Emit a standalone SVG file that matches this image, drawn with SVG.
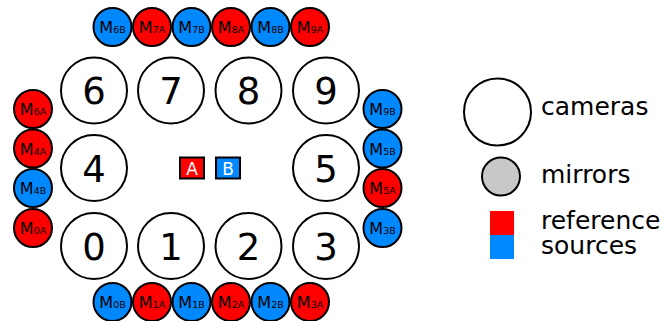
<svg xmlns="http://www.w3.org/2000/svg" width="662" height="321" viewBox="0 0 662 321">
<style>
.cam{fill:#fff;stroke:#000;stroke-width:2}
.mr{fill:#ff0000;stroke:#000;stroke-width:2}
.mb{fill:#0088ff;stroke:#000;stroke-width:2}
.num{font-family:"DejaVu Sans",sans-serif;font-size:37px;text-anchor:middle;fill:#000}
.ml{font-family:"DejaVu Sans",sans-serif;font-size:16px;text-anchor:middle;fill:#000}
.sub{font-size:9.5px}
.src{stroke:#000;stroke-width:2}
.sl{font-family:"DejaVu Sans",sans-serif;font-size:17px;text-anchor:middle;fill:#fff}
.lg{font-family:"DejaVu Sans",sans-serif;font-size:25px;fill:#000}
</style>
<g id="cameras">
<g id="cam6"><circle class="cam" cx="94" cy="90.5" r="33"/><text class="num" x="94" y="104">6</text></g>
<g id="cam7"><circle class="cam" cx="171" cy="90.5" r="33"/><text class="num" x="171" y="104">7</text></g>
<g id="cam8"><circle class="cam" cx="248.5" cy="90.5" r="33"/><text class="num" x="248.5" y="104">8</text></g>
<g id="cam9"><circle class="cam" cx="326" cy="90.5" r="33"/><text class="num" x="326" y="104">9</text></g>
<g id="cam4"><circle class="cam" cx="94" cy="168" r="33"/><text class="num" x="94" y="181.5">4</text></g>
<g id="cam5"><circle class="cam" cx="326" cy="168" r="33"/><text class="num" x="326" y="181.5">5</text></g>
<g id="cam0"><circle class="cam" cx="94" cy="246" r="33"/><text class="num" x="94" y="259.5">0</text></g>
<g id="cam1"><circle class="cam" cx="171" cy="246" r="33"/><text class="num" x="171" y="259.5">1</text></g>
<g id="cam2"><circle class="cam" cx="248.5" cy="246" r="33"/><text class="num" x="248.5" y="259.5">2</text></g>
<g id="cam3"><circle class="cam" cx="326" cy="246" r="33"/><text class="num" x="326" y="259.5">3</text></g>
</g>
<g id="mirrors">
<g id="M6B"><circle class="mb" cx="112.5" cy="27" r="19"/><text class="ml" x="112.5" y="33">M<tspan class="sub">6B</tspan></text></g>
<g id="M7A"><circle class="mr" cx="152" cy="27" r="19"/><text class="ml" x="152" y="33">M<tspan class="sub">7A</tspan></text></g>
<g id="M7B"><circle class="mb" cx="191.5" cy="27" r="19"/><text class="ml" x="191.5" y="33">M<tspan class="sub">7B</tspan></text></g>
<g id="M8A"><circle class="mr" cx="231" cy="27" r="19"/><text class="ml" x="231" y="33">M<tspan class="sub">8A</tspan></text></g>
<g id="M8B"><circle class="mb" cx="270.5" cy="27" r="19"/><text class="ml" x="270.5" y="33">M<tspan class="sub">8B</tspan></text></g>
<g id="M9A"><circle class="mr" cx="310" cy="27" r="19"/><text class="ml" x="310" y="33">M<tspan class="sub">9A</tspan></text></g>
<g id="M0B"><circle class="mb" cx="112.5" cy="302" r="19"/><text class="ml" x="112.5" y="308">M<tspan class="sub">0B</tspan></text></g>
<g id="M1A"><circle class="mr" cx="152" cy="302" r="19"/><text class="ml" x="152" y="308">M<tspan class="sub">1A</tspan></text></g>
<g id="M1B"><circle class="mb" cx="191.5" cy="302" r="19"/><text class="ml" x="191.5" y="308">M<tspan class="sub">1B</tspan></text></g>
<g id="M2A"><circle class="mr" cx="231" cy="302" r="19"/><text class="ml" x="231" y="308">M<tspan class="sub">2A</tspan></text></g>
<g id="M2B"><circle class="mb" cx="270.5" cy="302" r="19"/><text class="ml" x="270.5" y="308">M<tspan class="sub">2B</tspan></text></g>
<g id="M3A"><circle class="mr" cx="310" cy="302" r="19"/><text class="ml" x="310" y="308">M<tspan class="sub">3A</tspan></text></g>
<g id="M6A"><circle class="mr" cx="33" cy="109" r="19"/><text class="ml" x="33" y="115">M<tspan class="sub">6A</tspan></text></g>
<g id="M4A"><circle class="mr" cx="33" cy="148.5" r="19"/><text class="ml" x="33" y="154.5">M<tspan class="sub">4A</tspan></text></g>
<g id="M4B"><circle class="mb" cx="33" cy="188" r="19"/><text class="ml" x="33" y="194">M<tspan class="sub">4B</tspan></text></g>
<g id="M0A"><circle class="mr" cx="33" cy="228" r="19"/><text class="ml" x="33" y="234">M<tspan class="sub">0A</tspan></text></g>
<g id="M9B"><circle class="mb" cx="382.5" cy="109" r="19"/><text class="ml" x="382.5" y="115">M<tspan class="sub">9B</tspan></text></g>
<g id="M5B"><circle class="mb" cx="382.5" cy="148.5" r="19"/><text class="ml" x="382.5" y="154.5">M<tspan class="sub">5B</tspan></text></g>
<g id="M5A"><circle class="mr" cx="382.5" cy="188" r="19"/><text class="ml" x="382.5" y="194">M<tspan class="sub">5A</tspan></text></g>
<g id="M3B"><circle class="mb" cx="382.5" cy="228" r="19"/><text class="ml" x="382.5" y="234">M<tspan class="sub">3B</tspan></text></g>
</g>
<g id="sources">
<g id="srcA"><rect class="src" x="180" y="157.5" width="24" height="21" fill="#ff0000"/><text class="sl" x="192" y="174.5">A</text></g>
<g id="srcB"><rect class="src" x="216" y="157.5" width="24" height="21" fill="#0088ff"/><text class="sl" x="228" y="174.5">B</text></g>
</g>
<g id="connectors"/>
<g id="legend">
<circle cx="497.5" cy="112" r="33.5" fill="#fff" stroke="#000" stroke-width="2"/>
<text class="lg" x="541" y="115">cameras</text>
<circle cx="501" cy="176.5" r="19" fill="#c8c8c8" stroke="#000" stroke-width="2"/>
<text class="lg" x="541" y="183">mirrors</text>
<rect x="490" y="211" width="24" height="24" fill="#ff0000"/>
<rect x="490" y="235" width="24" height="24" fill="#0088ff"/>
<text class="lg" x="541" y="229">reference</text>
<text class="lg" x="541" y="254">sources</text>
</g>
</svg>
